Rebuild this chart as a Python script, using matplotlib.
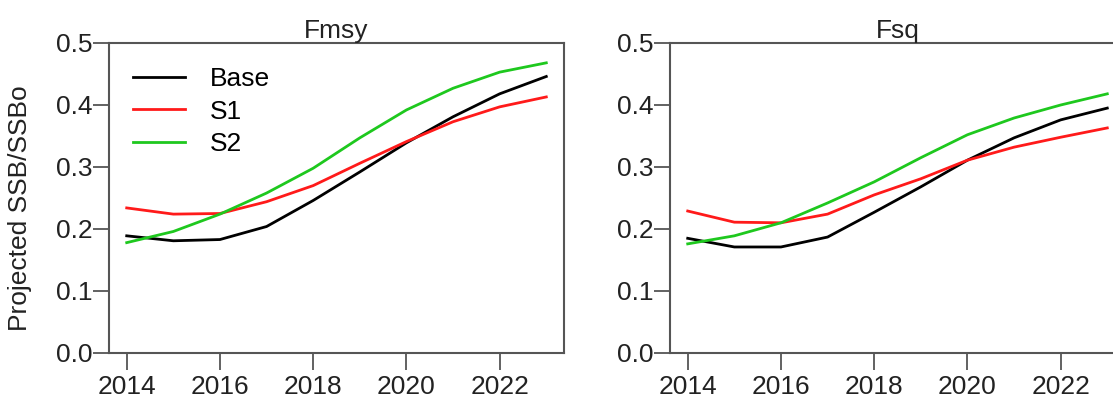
import numpy as np
import matplotlib
matplotlib.use('Agg')
import matplotlib.pyplot as plt

plt.rcParams['font.family'] = ['Liberation Sans', 'DejaVu Sans']

years = np.arange(2014, 2024)

# Fmsy panel
fmsy_base = [0.189, 0.181, 0.183, 0.204, 0.246, 0.292, 0.339, 0.381, 0.418, 0.446]
fmsy_s1 = [0.234, 0.224, 0.225, 0.244, 0.270, 0.306, 0.341, 0.373, 0.397, 0.413]
fmsy_s2 = [0.178, 0.196, 0.224, 0.258, 0.298, 0.347, 0.392, 0.427, 0.453, 0.468]

# Fsq panel
fsq_base = [0.185, 0.171, 0.171, 0.187, 0.227, 0.268, 0.311, 0.347, 0.376, 0.395]
fsq_s1 = [0.229, 0.211, 0.210, 0.224, 0.255, 0.281, 0.311, 0.332, 0.348, 0.363]
fsq_s2 = [0.176, 0.189, 0.210, 0.242, 0.276, 0.315, 0.352, 0.379, 0.400, 0.418]

series_names = ['Base', 'S1', 'S2']
series_colors = ['#000000', '#ff1a1a', '#1ec81e']
panel_titles = ['Fmsy', 'Fsq']
panel_data = [[fmsy_base, fmsy_s1, fmsy_s2], [fsq_base, fsq_s1, fsq_s2]]

W, H = 1113, 399
fig = plt.figure(figsize=(W / 100, H / 100), dpi=100)

spine_col = '#555555'
txt_col = '#222222'
fs = 19

ax_left_px = [109, 670]
ax_w = 455
ax_top, ax_bot = 43, 353

axes = []
for i in range(2):
    ax = fig.add_axes([ax_left_px[i] / W, 1 - ax_bot / H, ax_w / W, (ax_bot - ax_top) / H])
    for k in range(3):
        ax.plot(years, panel_data[i][k], color=series_colors[k], lw=2.0, label=series_names[k])
    ax.set_xlim(2013.62, 2023.38)
    ax.set_ylim(0, 0.5)
    ax.set_xticks([2014, 2016, 2018, 2020, 2022])
    ax.set_yticks([0.0, 0.1, 0.2, 0.3, 0.4, 0.5])
    ax.set_yticklabels(['0.0', '0.1', '0.2', '0.3', '0.4', '0.5'])
    for sp in ax.spines.values():
        sp.set_color(spine_col)
        sp.set_linewidth(1.5)
    ax.tick_params(axis='y', length=11.5, width=1.3, color=spine_col, pad=0.5,
                   labelsize=fs, labelcolor=txt_col)
    ax.tick_params(axis='x', length=12, width=1.3, color=spine_col, pad=4,
                   labelsize=fs, labelcolor=txt_col)
    ax.set_title(panel_titles[i], fontsize=fs, pad=3, color=txt_col)
    axes.append(ax)

leg = axes[0].legend(loc='upper left', bbox_to_anchor=(0.053, 0.922), frameon=False,
                     fontsize=fs, handlelength=1.97, handletextpad=0.95,
                     labelspacing=0.32, borderpad=0, borderaxespad=0)

fig.text(20 / W, 1 - 208 / H, 'Projected SSB/SSBo', rotation=90, ha='center', va='center',
         fontsize=fs, color=txt_col)

fig.savefig('out.png', dpi=100)
